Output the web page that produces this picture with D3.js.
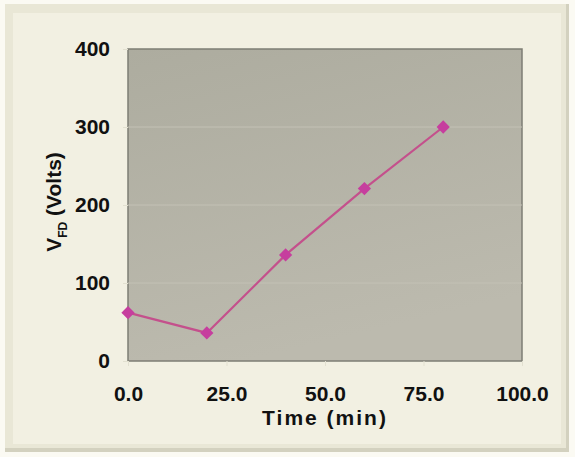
<!DOCTYPE html>
<html>
<head>
<meta charset="utf-8">
<script src="https://cdn.jsdelivr.net/npm/d3@7"></script>
<style>
  body { margin: 0; background: #fbfaf3; }
  text { font-family: "Liberation Sans", Arial, sans-serif; font-weight: bold; fill: #111; }
</style>
</head>
<body>
<div id="chart"></div>
<script>
// data
var times = [0, 20, 40, 60, 80];
var volts = [62, 36, 136, 221, 300];
var xTicks = [0, 25, 50, 75, 100];
var yTicks = [0, 100, 200, 300, 400];

var width = 575;
var height = 457;
var margin = { top: 49, right: 53, bottom: 96, left: 128 };

var svg = d3.select('#chart')
  .append('svg')
  .attr('width', width)
  .attr('height', height);

var defs = svg.append('defs');
var grad = defs.append('linearGradient')
  .attr('id', 'plotfill')
  .attr('x1', 0).attr('y1', 0).attr('x2', 0.3).attr('y2', 1);
grad.append('stop').attr('offset', '0%').attr('stop-color', '#adac9f');
grad.append('stop').attr('offset', '100%').attr('stop-color', '#bcbaae');

// bevelled frame
svg.append('rect').attr('x', 0).attr('y', 0).attr('width', width).attr('height', height).attr('fill', '#fbfaf3');
svg.append('rect').attr('x', 5).attr('y', 4).attr('width', 564).attr('height', 448).attr('fill', '#d3d1bf');
svg.append('rect').attr('x', 5).attr('y', 4).attr('width', 561).attr('height', 444).attr('fill', '#e9e7d6');
svg.append('rect').attr('x', 13).attr('y', 13).attr('width', 548).attr('height', 431).attr('fill', '#f2f0e2');

var plotW = width - margin.left - margin.right;
var plotH = height - margin.top - margin.bottom;

var g = svg.append('g')
  .attr('transform', 'translate(' + margin.left + ',' + margin.top + ')');

var x = d3.scaleLinear().domain([0, 100]).range([0, plotW]);
var y = d3.scaleLinear().domain([0, 400]).range([plotH, 0]);

// plot area
g.append('rect')
  .attr('width', plotW)
  .attr('height', plotH)
  .attr('fill', 'url(#plotfill)')
  .attr('stroke', '#7e7d74')
  .attr('stroke-width', 1.5);

// faint gridlines
g.selectAll('.grid')
  .data(yTicks.slice(1, -1))
  .enter()
  .append('line')
  .attr('class', 'grid')
  .attr('x1', 0).attr('x2', plotW)
  .attr('y1', function(d) { return y(d); })
  .attr('y2', function(d) { return y(d); })
  .attr('stroke', '#c3c1b5')
  .attr('stroke-width', 1);

// axes
var xAxis = d3.axisBottom(x)
  .tickValues(xTicks)
  .tickSize(5)
  .tickPadding(20)
  .tickFormat(d3.format('.1f'));

var yAxis = d3.axisLeft(y)
  .tickValues(yTicks)
  .tickSize(5)
  .tickPadding(13)
  .tickFormat(d3.format('d'));

var gx = g.append('g')
  .attr('transform', 'translate(0,' + plotH + ')')
  .call(xAxis);

var gy = g.append('g').call(yAxis);

[gx, gy].forEach(function(a) {
  a.attr('font-size', null).attr('font-family', null);
  a.select('.domain').remove();
  a.selectAll('.tick line').attr('stroke', '#e2e0d0');
  a.selectAll('.tick text')
    .attr('fill', '#111')
    .style('font-size', '21px');
});

// line + markers
var points = times.map(function(t, i) { return { t: t, v: volts[i] }; });

var line = d3.line()
  .x(function(d) { return x(d.t); })
  .y(function(d) { return y(d.v); });

g.append('path')
  .datum(points)
  .attr('d', line)
  .attr('fill', 'none')
  .attr('stroke', '#c4508c')
  .attr('stroke-width', 2.2);

g.selectAll('.pt')
  .data(points)
  .enter()
  .append('path')
  .attr('class', 'pt')
  .attr('d', d3.symbol().type(d3.symbolSquare).size(88))
  .attr('transform', function(d) {
    return 'translate(' + x(d.t) + ',' + y(d.v) + ') rotate(45)';
  })
  .attr('fill', '#c63e9e');

// axis titles
svg.append('text')
  .attr('x', margin.left + plotW / 2)
  .attr('y', 425)
  .attr('text-anchor', 'middle')
  .style('font-size', '21px')
  .style('letter-spacing', '2px')
  .text('Time (min)');

var yt = svg.append('text')
  .attr('transform', 'translate(61,' + (margin.top + plotH / 2 - 3) + ') rotate(-90)')
  .attr('text-anchor', 'middle')
  .style('font-size', '21px');
yt.append('tspan').text('V');
yt.append('tspan').attr('dy', 6).style('font-size', '12px').text('FD');
yt.append('tspan').attr('dy', -6).text(' (Volts)');
</script>
</body>
</html>
